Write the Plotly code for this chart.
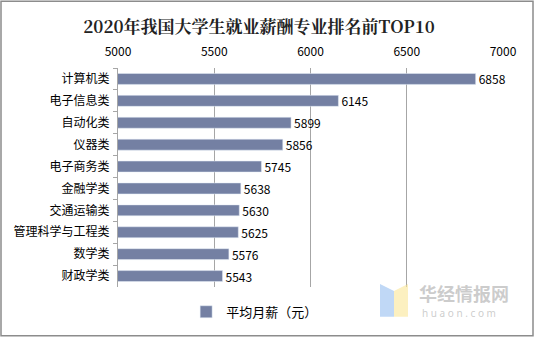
import plotly.graph_objects as go

categories = ["计算机类", "电子信息类", "自动化类", "仪器类", "电子商务类",
              "金融学类", "交通运输类", "管理科学与工程类", "数学类", "财政学类"]
values = [6858, 6145, 5899, 5856, 5745, 5638, 5630, 5625, 5576, 5543]
x_ticks = [5000, 5500, 6000, 6500, 7000]
series_name = "平均月薪（元）"
title_text = "2020年我国大学生就业薪酬专业排名前TOP10"

W, H = 534, 338
L, R, T, B = 118, 31, 68, 50
pw, ph = W - L - R, H - T - B

fig = go.Figure()
fig.add_trace(go.Bar(
    x=values, y=categories, orientation="h", name=series_name,
    marker=dict(color="#7480A3"),
    text=[str(v) for v in values], textposition="outside",
    constraintext="none",
    textfont=dict(size=12, color="#000000", family="Noto Sans CJK SC"),
    cliponaxis=False,
))

fig.update_layout(
    width=W, height=H,
    margin=dict(l=L, r=R, t=T, b=B),
    paper_bgcolor="white", plot_bgcolor="white",
    bargap=0.5,
    showlegend=True,
    legend=dict(orientation="h", x=0.177, y=-0.04, xanchor="left", yanchor="top",
                font=dict(size=13, color="#000", family="Noto Sans CJK SC"),
                itemwidth=30),
    title=dict(text=title_text, x=259 / W, xref="container", xanchor="center",
               y=1 - 27 / H, yref="container", yanchor="middle",
               font=dict(size=17, color="#222", family="Noto Serif CJK SC, Noto Sans CJK SC", weight="bold")),
    xaxis=dict(side="top", range=[5000, 7000], tickvals=x_ticks,
               showgrid=True, gridcolor="#A6A6A6", gridwidth=1,
               zeroline=False, showline=False, ticks="outside", ticklen=6, tickcolor="rgba(0,0,0,0)",
               tickfont=dict(size=12, color="#000", family="Noto Sans CJK SC")),
    yaxis=dict(autorange="reversed", showline=True, linecolor="#A6A6A6", linewidth=1,
               ticks="outside", ticklen=4, tickcolor="#A6A6A6", tickson="boundaries",
               ticklabelstandoff=5,
               tickfont=dict(size=12, color="#000", family="Noto Sans CJK SC")),
    font=dict(family="Noto Sans CJK SC"),
)

# outer border of the whole image
fig.add_shape(type="rect", xref="paper", yref="paper",
              x0=(-L + 1) / pw, x1=1 + (R - 1) / pw,
              y0=(-B + 1) / ph, y1=1 + (T - 1) / ph,
              line=dict(color="#8C8C8C", width=1.5), fillcolor="rgba(0,0,0,0)")

# watermark
fig.add_shape(type="path", xref="paper", yref="paper",
              path=f"M {(380-L)/pw} {(H-285-B)/ph} L {(394-L)/pw} {(H-292-B)/ph} L {(394-L)/pw} {(H-318-B)/ph} L {(380-L)/pw} {(H-318-B)/ph} Z",
              fillcolor="rgba(150,190,240,0.6)", line=dict(width=0))
fig.add_shape(type="path", xref="paper", yref="paper",
              path=f"M {(394-L)/pw} {(H-292-B)/ph} L {(408-L)/pw} {(H-285-B)/ph} L {(408-L)/pw} {(H-318-B)/ph} L {(394-L)/pw} {(H-318-B)/ph} Z",
              fillcolor="rgba(250,230,150,0.6)", line=dict(width=0))
fig.add_annotation(xref="paper", yref="paper", x=(417 - L) / pw, y=(H - 294 - B) / ph,
                   text="华经情报网", showarrow=False, xanchor="left", yanchor="middle",
                   font=dict(size=18, color="rgba(170,170,170,0.6)", family="Noto Sans CJK SC", weight="bold"))
fig.add_annotation(xref="paper", yref="paper", x=(420 - L) / pw, y=(H - 314 - B) / ph,
                   text="h u a o n . c o m", showarrow=False, xanchor="left", yanchor="middle",
                   font=dict(size=10, color="rgba(170,170,170,0.6)", family="Noto Sans"))

fig.write_html("out.html")
